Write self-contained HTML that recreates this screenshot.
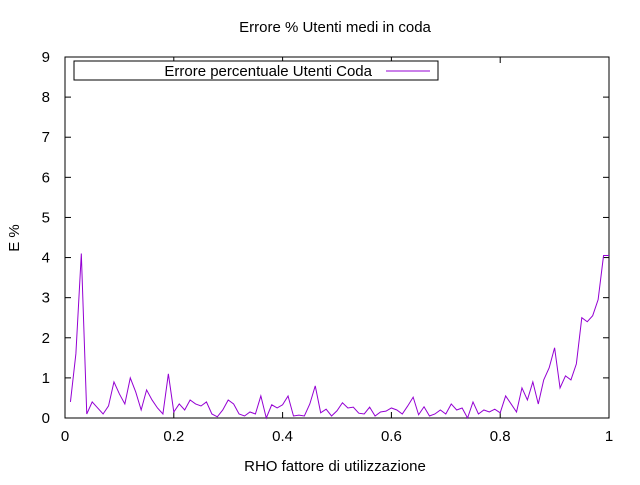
<!DOCTYPE html>
<html><head><meta charset="utf-8"><style>
body{margin:0;background:#fff}
svg text{font-family:"Liberation Sans",sans-serif;font-size:15px;fill:#000}
</style></head><body>
<svg width="640" height="480" id="c">
<rect width="640" height="480" fill="#fff"/>
<text x="335" y="32" text-anchor="middle">Errore % Utenti medi in coda</text>
<text x="335" y="471" text-anchor="middle">RHO fattore di utilizzazione</text>
<text transform="translate(19,238) rotate(-90)" text-anchor="middle">E %</text>
<g id="ax"></g>
<rect x="65" y="57" width="544" height="361" fill="none" stroke="#000"/>
<polyline id="ln" fill="none" stroke="#9400d3" stroke-width="1"/>
<g>
<rect x="74" y="61" width="364" height="19" fill="#fff" stroke="#000"/>
<text x="372" y="76" text-anchor="end">Errore percentuale Utenti Coda</text>
<line x1="386" y1="71" x2="430" y2="71" stroke="#9400d3"/>
</g>
</svg>
<script>
const xTicks=[0,0.2,0.4,0.6,0.8,1];
const yTicks=[0,1,2,3,4,5,6,7,8,9];
const xTickLabels=["0","0.2","0.4","0.6","0.8","1"];
const rho=[];for(let i=1;i<=100;i++)rho.push(+(i/100).toFixed(2));
const errPct=[0.4,1.6,4.1,0.1,0.4,0.25,0.1,0.3,0.9,0.6,0.35,1.0,0.65,0.2,0.7,0.45,0.25,0.1,1.1,0.15,
0.35,0.2,0.45,0.35,0.3,0.4,0.1,0.03,0.2,0.45,0.35,0.1,0.05,0.15,0.1,0.55,0.0,0.33,0.25,0.33,
0.55,0.05,0.07,0.05,0.35,0.8,0.13,0.22,0.05,0.18,0.38,0.25,0.27,0.12,0.1,0.27,0.05,0.15,0.17,0.25,
0.2,0.1,0.3,0.52,0.08,0.28,0.05,0.1,0.2,0.1,0.35,0.2,0.25,0.0,0.4,0.1,0.2,0.15,0.22,0.13,
0.55,0.35,0.15,0.75,0.45,0.9,0.35,0.95,1.25,1.75,0.75,1.05,0.95,1.35,2.5,2.4,2.55,2.95,4.05,4.05];
const X=v=>65+v*544, Y=v=>418-v*361/9;
const ns="http://www.w3.org/2000/svg", ax=document.getElementById('ax');
function mk(t,a){const e=document.createElementNS(ns,t);for(const k in a)e.setAttribute(k,a[k]);ax.appendChild(e);return e;}
xTicks.forEach((t,i)=>{
 const l=mk('line',{x1:X(t),x2:X(t),y1:418,y2:412,stroke:'#000'});
 
 
 const l2=mk('line',{x1:X(t),x2:X(t),y1:57,y2:63,stroke:'#000'});
 
 
 const tx=mk('text',{x:X(t),y:441,'text-anchor':'middle'});tx.textContent=xTickLabels[i];
 
 
});
yTicks.forEach(t=>{
 const l=mk('line',{x1:65,x2:71,y1:Y(t),y2:Y(t),stroke:'#000'});
 
 
 const l2=mk('line',{x1:603,x2:609,y1:Y(t),y2:Y(t),stroke:'#000'});
 
 
 const tx=mk('text',{x:50,y:Y(t)+5,'text-anchor':'end'});tx.textContent=t;
 
 
});
document.getElementById('ln').setAttribute('points',errPct.map((v,i)=>X(rho[i])+','+Y(v)).join(' '));
</script>
</body></html>
